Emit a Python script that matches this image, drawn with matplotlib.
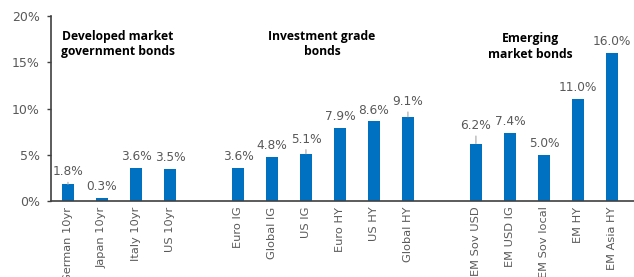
import numpy as np
import matplotlib.pyplot as plt

# data
labels = ['German 10yr', 'Japan 10yr', 'Italy 10yr', 'US 10yr',
          'Euro IG', 'Global IG', 'US IG', 'Euro HY', 'US HY', 'Global HY',
          'EM Sov USD', 'EM USD IG', 'EM Sov local', 'EM HY', 'EM Asia HY']
values = [1.8, 0.3, 3.6, 3.5,
          3.6, 4.8, 5.1, 7.9, 8.6, 9.1,
          6.2, 7.4, 5.0, 11.0, 16.0]
groups = ['Developed market\ngovernment bonds', 'Investment grade\nbonds', 'Emerging\nmarket bonds']
group_sizes = [4, 6, 5]
# labels that sit a bit higher, with a small leader line
leader = {'German 10yr': 4.5, 'US IG': 6, 'Global HY': 6.5, 'EM Sov USD': 8.5}

# positions with a 1-slot gap between groups
xpos = []
start = 0
for n in group_sizes:
    xpos += list(range(start, start + n))
    start += n + 1
xpos = np.array(xpos)

blue = '#0070C0'
grey = '#595959'

fig = plt.figure(figsize=(6.34, 2.77), dpi=100)
ax = fig.add_axes([0.0804, 0.2744, 0.9196, 0.6676])
ax.bar(xpos, values, width=0.36, color=blue, zorder=2)

ax.set_xlim(-0.5, 16.65)
ax.set_ylim(0, 20)
ax.set_yticks([0, 5, 10, 15, 20])
ax.set_yticklabels(['0%', '5%', '10%', '15%', '20%'])
ax.set_xticks(xpos)
ax.set_xticklabels(labels, rotation=90)
ax.tick_params(axis='y', colors='#404040', labelcolor=grey, labelsize=9, length=3, width=1, pad=5)
ax.tick_params(axis='x', length=0, labelcolor=grey, labelsize=8.2, pad=4)
for s in ['top', 'right']:
    ax.spines[s].set_visible(False)
ax.spines['left'].set_color('#404040')
ax.spines['bottom'].set_color('#404040')
ax.spines['left'].set_linewidth(1.2)
ax.spines['bottom'].set_linewidth(1.2)

# value labels
for x, v, lab in zip(xpos, values, labels):
    if lab in leader:
        ax.annotate(f'{v:.1f}%', xy=(x, v), xytext=(0, leader[lab]), textcoords='offset points',
                    ha='center', va='bottom', fontsize=8.7, color=grey,
                    arrowprops=dict(arrowstyle='-', color='#a6a6a6', lw=0.8, shrinkA=1, shrinkB=0))
    else:
        ax.annotate(f'{v:.1f}%', xy=(x, v), xytext=(0, 3.5), textcoords='offset points',
                    ha='center', va='bottom', fontsize=8.7, color=grey)

# group titles
centers = [(1.47, 17.0), (7.47, 17.0), (13.6, 16.7)]
for g, (cx, cy) in zip(groups, centers):
    ax.text(cx, cy, g, ha='center', va='center', fontsize=8.7, fontweight='bold',
            family='Open Sans', color='black', linespacing=1.25)

fig.savefig('out.png', dpi=100)
